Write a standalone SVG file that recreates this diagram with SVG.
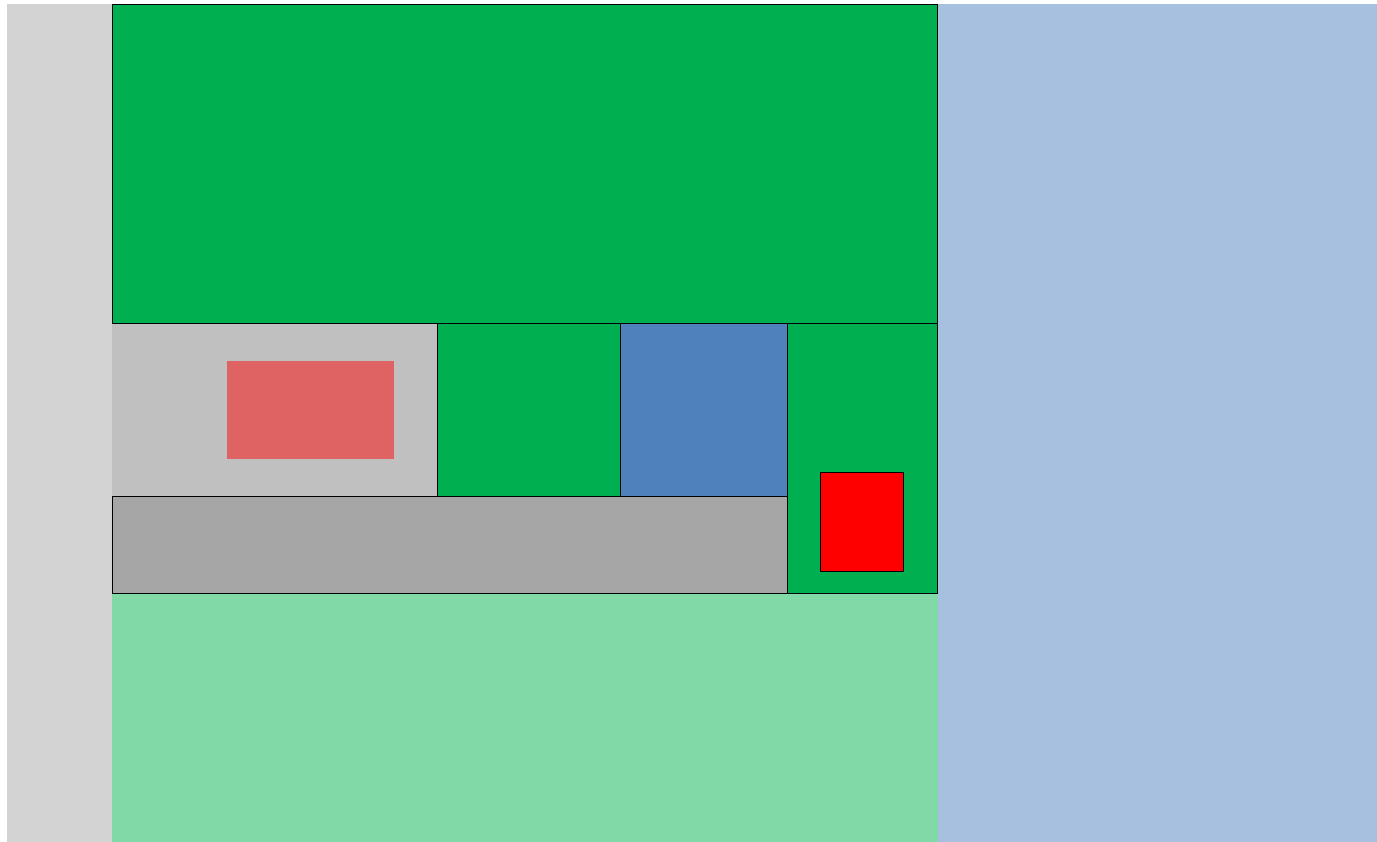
<svg xmlns="http://www.w3.org/2000/svg" width="1377" height="842" viewBox="0 0 1377 842">
<style>
.s{stroke:#000;stroke-width:1}
</style>
<rect width="1377" height="842" fill="#fff"/>
<g id="left-strip"><rect x="7" y="4" width="105" height="838" fill="#d3d3d3"/></g>
<g id="right-area"><rect x="938" y="4" width="439" height="838" fill="#a8c0e0"/></g>
<g id="bottom-area"><rect x="112" y="594" width="826" height="248" fill="#82d9a8"/></g>
<g id="top-green"><rect class="s" x="112.5" y="4.5" width="825" height="319" fill="#00af4f"/></g>
<g id="gray-room"><rect x="112" y="324" width="325" height="172" fill="#c0c0c0"/><rect x="227" y="361" width="167" height="98" fill="#e06363"/></g>
<g id="green-mid"><rect class="s" x="437.5" y="323.5" width="183" height="173" fill="#00af4f"/></g>
<g id="blue-mid"><rect class="s" x="620.5" y="323.5" width="167" height="173" fill="#4f81bd"/></g>
<g id="green-right"><rect class="s" x="787.5" y="323.5" width="150" height="270" fill="#00af4f"/><rect class="s" x="820.5" y="472.5" width="83" height="99" fill="#ff0000"/></g>
<g id="dark-gray"><rect class="s" x="112.5" y="496.5" width="675" height="97" fill="#a6a6a6"/></g>
</svg>
